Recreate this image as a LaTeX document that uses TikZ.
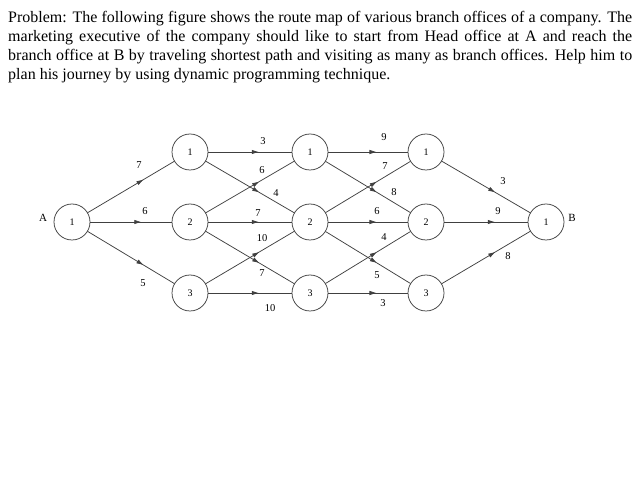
\documentclass[tikz,border=0pt]{standalone}
\usepackage{fontspec}
\setmainfont{Liberation Serif}
\usetikzlibrary{arrows.meta,decorations.markings}
\begin{document}
\begin{tikzpicture}[x=1pt,y=-1pt,
  st/.style={circle,draw=black!75,line width=0.75pt,minimum size=36pt,inner sep=0pt,font=\fontsize{10}{12}\selectfont},
  edge/.style={draw=black!75,line width=0.75pt,postaction={decorate},
    decoration={markings,mark=at position #1 with {\arrow{Triangle[length=6.5pt,width=4pt]}}}},
  edge/.default=0.6,
  lbl/.style={inner sep=0pt,font=\fontsize{10.5}{12}\selectfont},
  side/.style={inner sep=0pt,font=\fontsize{11}{13}\selectfont}]
\useasboundingbox (0,0) rectangle (638,478);
\node[anchor=north west,inner sep=0pt,text width=624pt,align=justify,font=\fontsize{16}{19}\selectfont] (txt) at (8,11)
{Problem: The following figure shows the route map of various branch offices of a company. The\linebreak marketing executive of the company should like to start from Head office at A and reach the\linebreak branch office at B by traveling shortest path and visiting as many as branch offices. Help him to\linebreak plan his journey by using dynamic programming technique.};
\node[st] (a) at (72,222) {1};
\node[st] (b1) at (190,152) {1};
\node[st] (b2) at (190,222) {2};
\node[st] (b3) at (190,293) {3};
\node[st] (c1) at (310,152) {1};
\node[st] (c2) at (310,222) {2};
\node[st] (c3) at (310,293) {3};
\node[st] (d1) at (426,152) {1};
\node[st] (d2) at (426,222) {2};
\node[st] (d3) at (426,293) {3};
\node[st] (e) at (546,222) {1};
\node[side] (la) at (43,218) {A};
\node[side] (lb) at (572,218) {B};
\draw[edge=0.64] (a) -- (b1) node[lbl] at (139,165) {7};
\draw[edge=0.62] (a) -- (b2) node[lbl] at (145,211) {6};
\draw[edge=0.64] (a) -- (b3) node[lbl] at (143,283) {5};
\draw[edge] (b1) -- (c1) node[lbl] at (263,141) {3};
\draw[edge] (b2) -- (c1) node[lbl] at (262,170) {6};
\draw[edge] (b1) -- (c2) node[lbl] at (276,193) {4};
\draw[edge] (b2) -- (c2) node[lbl] at (258,213) {7};
\draw[edge] (b3) -- (c2) node[lbl] at (262,238) {10};
\draw[edge] (b2) -- (c3) node[lbl] at (262,273) {7};
\draw[edge] (b3) -- (c3) node[lbl] at (270,308) {10};
\draw[edge] (c1) -- (d1) node[lbl] at (384,137) {9};
\draw[edge] (c2) -- (d1) node[lbl] at (385,166) {7};
\draw[edge] (c1) -- (d2) node[lbl] at (394,192) {8};
\draw[edge] (c2) -- (d2) node[lbl] at (377,211) {6};
\draw[edge] (c3) -- (d2) node[lbl] at (384,237) {4};
\draw[edge] (c2) -- (d3) node[lbl] at (377,275) {5};
\draw[edge] (c3) -- (d3) node[lbl] at (383,303) {3};
\draw[edge] (d1) -- (e) node[lbl] at (503,181) {3};
\draw[edge] (d2) -- (e) node[lbl] at (498,211) {9};
\draw[edge] (d3) -- (e) node[lbl] at (508,256) {8};
\end{tikzpicture}
\end{document}
